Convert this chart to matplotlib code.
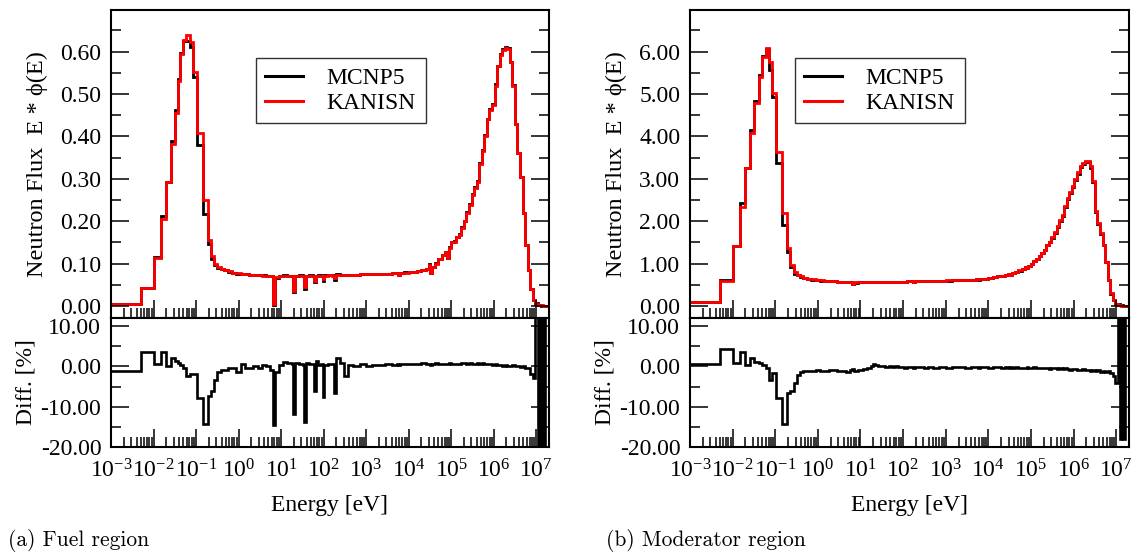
import numpy as np
import matplotlib
matplotlib.use('Agg')
import matplotlib.pyplot as plt
from matplotlib.lines import Line2D
from matplotlib.ticker import FixedLocator, LogLocator, FuncFormatter, NullFormatter

plt.rcParams['font.family'] = ['Liberation Serif', 'DejaVu Serif']
plt.rcParams['mathtext.fontset'] = 'custom'
plt.rcParams['mathtext.rm'] = 'Liberation Serif'
plt.rcParams['mathtext.it'] = 'Liberation Serif:italic'

# group boundaries, log10(E / eV)
log_edges = [
    -3.00, -2.30, -2.00, -1.825, -1.705, -1.59, -1.50, -1.43, -1.37, -1.30,
    -1.225, -1.15, -1.07, -0.975, -0.83, -0.725, -0.645, -0.57, -0.50, -0.42,
    -0.34, -0.25, -0.15, -0.05, 0.05, 0.15, 0.25, 0.35, 0.45, 0.55,
    0.65, 0.75, 0.80, 0.85, 0.95, 1.05, 1.15, 1.25, 1.29, 1.33,
    1.42, 1.51, 1.54, 1.58, 1.66, 1.74, 1.77, 1.81, 1.88, 1.95,
    1.98, 2.02, 2.10, 2.20, 2.24, 2.28, 2.38, 2.48, 2.58, 2.70,
    2.85, 3.00, 3.15, 3.30, 3.45, 3.60, 3.72, 3.76, 3.80, 3.90,
    4.00, 4.10, 4.20, 4.30, 4.40, 4.47, 4.51, 4.55, 4.62, 4.70,
    4.78, 4.86, 4.90, 4.94, 5.00, 5.06, 5.12, 5.18, 5.24, 5.30,
    5.36, 5.42, 5.48, 5.54, 5.60, 5.66, 5.72, 5.78, 5.84, 5.90,
    5.96, 6.02, 6.08, 6.14, 6.20, 6.26, 6.32, 6.38, 6.44, 6.50,
    6.56, 6.62, 6.68, 6.74, 6.80, 6.86, 6.92, 6.98, 7.04, 7.08,
    7.12, 7.16, 7.20, 7.24, 7.30]

# fuel region: KANISN flux per group and difference to MCNP5 [%]
fuel_kanisn = [
    0.006, 0.042, 0.114, 0.205, 0.293, 0.381, 0.456, 0.530, 0.595, 0.628,
    0.640, 0.622, 0.551, 0.409, 0.249, 0.156, 0.117, 0.100, 0.092, 0.088,
    0.085, 0.082, 0.079, 0.077, 0.076, 0.075, 0.074, 0.073, 0.073, 0.072,
    0.072, 0.071, 0.004, 0.068, 0.071, 0.072, 0.071, 0.070, 0.036, 0.071,
    0.072, 0.070, 0.045, 0.070, 0.072, 0.071, 0.060, 0.071, 0.072, 0.071,
    0.064, 0.072, 0.073, 0.072, 0.066, 0.073, 0.073, 0.074, 0.074, 0.074,
    0.075, 0.075, 0.075, 0.076, 0.076, 0.077, 0.077, 0.073, 0.078, 0.079,
    0.080, 0.081, 0.083, 0.085, 0.088, 0.098, 0.078, 0.092, 0.100, 0.110,
    0.120, 0.128, 0.113, 0.138, 0.150, 0.152, 0.162, 0.168, 0.185, 0.200,
    0.220, 0.238, 0.262, 0.278, 0.292, 0.335, 0.365, 0.400, 0.440, 0.462,
    0.475, 0.520, 0.565, 0.592, 0.604, 0.608, 0.607, 0.575, 0.520, 0.430,
    0.360, 0.305, 0.220, 0.145, 0.085, 0.040, 0.014, 0.006, 0.003, 0.002,
    0.0015, 0.001, 0.001, 0.001]

fuel_diff = [
    -1.1, 3.6, 0.6, 3.6, 0.2, 2.1, 1.3, 0.8, 0.4, -0.4,
    -2.5, -1.9, -1.9, -7.9, -14.2, -7.3, -6.2, -3.3, -1.4, -0.8,
    -0.8, -0.5, -0.5, -1.5, 0.7, -0.3, -0.4, 0.0, -0.3, 0.3,
    0.2, -0.8, -14.6, -1.5, 0.3, 1.2, 0.8, 0.5, -11.9, 0.8,
    0.6, 0.4, -13.9, 0.9, 0.5, 0.6, -6.2, 1.4, 0.4, 0.5,
    -7.7, 0.3, 0.6, 0.6, -6.7, 2.1, 0.8, -2.5, 0.3, 0.2,
    0.5, 0.1, 0.3, 0.4, 0.5, 0.3, 0.6, 0.4, 0.6, 0.5,
    0.7, 0.5, 0.6, 0.8, 0.5, 0.7, 0.4, 0.6, 0.8, 0.6,
    0.7, 0.5, 0.6, 0.8, 0.6, 0.7, 0.5, 0.6, 0.8, 0.9,
    0.7, 0.8, 0.6, 0.7, 0.9, 0.6, 0.8, 0.7, 0.5, 0.6,
    0.4, 0.5, 0.3, 0.4, 0.2, 0.3, 0.2, 0.1, 0.3, 0.0,
    0.2, -0.1, 0.0, -0.3, -0.5, -2.0, -3.0, 25.0, -25.0, 25.0,
    -25.0, 25.0, -25.0, -25.0]

# moderator region
mod_kanisn = [
    0.10, 0.59, 1.415, 2.34, 3.25, 4.07, 4.78, 4.78, 5.41, 5.88,
    6.09, 5.76, 5.02, 3.64, 2.19, 1.36, 0.97, 0.80, 0.74, 0.70,
    0.67, 0.65, 0.63, 0.62, 0.61, 0.60, 0.59, 0.59, 0.58, 0.58,
    0.58, 0.57, 0.53, 0.56, 0.57, 0.57, 0.57, 0.57, 0.56, 0.57,
    0.57, 0.57, 0.565, 0.57, 0.575, 0.575, 0.57, 0.58, 0.58, 0.58,
    0.575, 0.58, 0.585, 0.585, 0.58, 0.59, 0.59, 0.59, 0.595, 0.60,
    0.60, 0.605, 0.61, 0.615, 0.62, 0.625, 0.63, 0.63, 0.64, 0.65,
    0.66, 0.68, 0.70, 0.72, 0.74, 0.76, 0.74, 0.78, 0.80, 0.84,
    0.88, 0.92, 0.90, 0.95, 1.00, 1.06, 1.12, 1.18, 1.26, 1.33,
    1.44, 1.52, 1.62, 1.74, 1.88, 2.02, 2.15, 2.35, 2.55, 2.68,
    2.82, 3.00, 3.15, 3.30, 3.38, 3.43, 3.42, 3.30, 2.95, 2.25,
    1.95, 1.72, 1.45, 1.05, 0.62, 0.30, 0.15, 0.06, 0.03, 0.02,
    0.012, 0.008, 0.005, 0.004]

mod_diff = [
    0.6, 4.2, 0.8, 3.6, 0.4, 2.1, 1.0, 1.0, 0.8, 0.4,
    -0.4, -3.3, -1.7, -7.9, -14.4, -6.7, -6.1, -4.2, -2.1, -1.3,
    -1.2, -1.2, -1.1, -1.0, -1.2, -1.1, -0.9, -1.0, -1.1, -1.2,
    -1.3, -1.0, -0.7, -1.2, -1.0, -0.6, -0.3, 0.2, 0.5, 0.3,
    0.1, 0.2, 0.0, -0.1, 0.0, -0.2, -0.1, 0.0, -0.2, -0.1,
    -0.2, -0.3, -0.1, -0.2, -0.4, -0.2, -0.1, -0.3, -0.2, -0.3,
    -0.2, -0.3, -0.1, -0.2, -0.3, -0.1, -0.2, -0.4, -0.2, -0.1,
    -0.3, -0.2, -0.1, -0.3, -0.2, -0.4, -0.1, -0.3, -0.2, -0.4,
    -0.3, -0.5, -0.2, -0.4, -0.3, -0.2, -0.5, -0.3, -0.4, -0.5,
    -0.4, -0.6, -0.5, -0.3, -0.6, -0.5, -0.7, -0.5, -0.6, -0.8,
    -0.6, -0.7, -0.9, -0.8, -0.6, -1.0, -0.8, -1.1, -0.9, -1.2,
    -1.0, -1.3, -1.1, -1.4, -1.2, -1.6, -2.5, -4.0, 25.0, -18.0,
    25.0, -18.0, 25.0, 25.0]

edges = 10.0 ** np.array(log_edges)

FS = 17
W_PX, H_PX = 1134, 554
fig = plt.figure(figsize=(W_PX / 100, H_PX / 100), dpi=100)


def box(x0, x1, y0, y1):
    # pixel box -> figure fraction
    return [x0 / W_PX, 1 - y1 / H_PX, (x1 - x0) / W_PX, (y1 - y0) / H_PX]


def fmt2(v, pos):
    return '%.2f' % v if abs(v) > 1e-9 else '0.00'


def style_axis(ax):
    ax.set_xscale('log')
    ax.set_xlim(1e-3, 2e7)
    ax.xaxis.set_major_locator(FixedLocator(10.0 ** np.arange(-3, 8)))
    ax.xaxis.set_minor_locator(LogLocator(base=10, subs=np.arange(2, 10), numticks=60))
    ax.xaxis.set_minor_formatter(NullFormatter())
    ax.tick_params(which='both', direction='in', top=False, right=True,
                   width=1.1, labelsize=FS)
    ax.tick_params(which='major', length=13)
    ax.tick_params(which='minor', length=7)
    ax.tick_params(axis='y', pad=7)
    ax.yaxis.set_major_formatter(FuncFormatter(fmt2))
    for s in ax.spines.values():
        s.set_linewidth(1.5)


def panel(x0, x1, kanisn, diff, yticks, ytop, ybot, leg_x, caption):
    kanisn = np.array(kanisn)
    diff = np.array(diff)
    mcnp = kanisn / (1 - diff / 100.0)

    ax = fig.add_axes(box(x0, x1, 10, 318))
    ax2 = fig.add_axes(box(x0, x1, 318, 447))

    ax.stairs(mcnp, edges, baseline=None, color='black', lw=2.0)
    ax.stairs(kanisn, edges, baseline=None, color='red', lw=2.0)
    style_axis(ax)
    ax.set_ylim(ybot, ytop)
    ax.yaxis.set_major_locator(FixedLocator(yticks))
    step = yticks[1] - yticks[0]
    ax.yaxis.set_minor_locator(FixedLocator(np.arange(yticks[0], ytop, step / 2)))
    ax.set_xticklabels([])
    ax.set_ylabel('Neutron Flux  E * \u03d5(E)', fontsize=17.5)
    ax.yaxis.set_label_coords(-0.144, 0.5)

    handles = [Line2D([], [], color='black', lw=2.2), Line2D([], [], color='red', lw=2.2)]
    leg = ax.legend(handles, ['MCNP5', 'KANISN'], loc='upper left',
                    bbox_to_anchor=((leg_x - x0) / (x1 - x0), 1 - 48 / 308),
                    borderaxespad=0, fontsize=FS, frameon=True, fancybox=False,
                    handlelength=1.6, handletextpad=1.0, borderpad=0.4,
                    labelspacing=0.15)
    leg.get_frame().set_edgecolor('black')
    leg.get_frame().set_linewidth(1.0)

    ax2.stairs(diff, edges, baseline=None, color='black', lw=1.9)
    style_axis(ax2)
    ax2.set_ylim(-20, 12)
    ax2.yaxis.set_major_locator(FixedLocator([-20, -10, 0, 10]))
    ax2.yaxis.set_minor_locator(FixedLocator([-15, -5, 5]))
    ax2.xaxis.set_major_formatter(FuncFormatter(lambda v, p: r'$10^{%d}$' % round(np.log10(v))))
    ax2.tick_params(axis='x', pad=9)
    ax2.set_ylabel('Diff. [%]', fontsize=FS)
    ax2.yaxis.set_label_coords(-0.169, 0.5)
    ax2.set_xlabel('Energy [eV]', fontsize=FS)
    ax2.xaxis.set_label_coords(0.5, -0.37)

    fig.text(caption[0] / W_PX, 1 - 541 / H_PX, caption[1], fontfamily='cmr10',
             fontsize=15.5, va='center', ha='left')


panel(111, 549, fuel_kanisn, fuel_diff, [0.0, 0.1, 0.2, 0.3, 0.4, 0.5, 0.6],
      0.698, -0.028, 256, (8, '(a) Fuel region'))
panel(690, 1129, mod_kanisn, mod_diff, [0.0, 1.0, 2.0, 3.0, 4.0, 5.0, 6.0],
      6.98, -0.28, 795, (606, '(b) Moderator region'))

fig.savefig('out.png', dpi=100)
